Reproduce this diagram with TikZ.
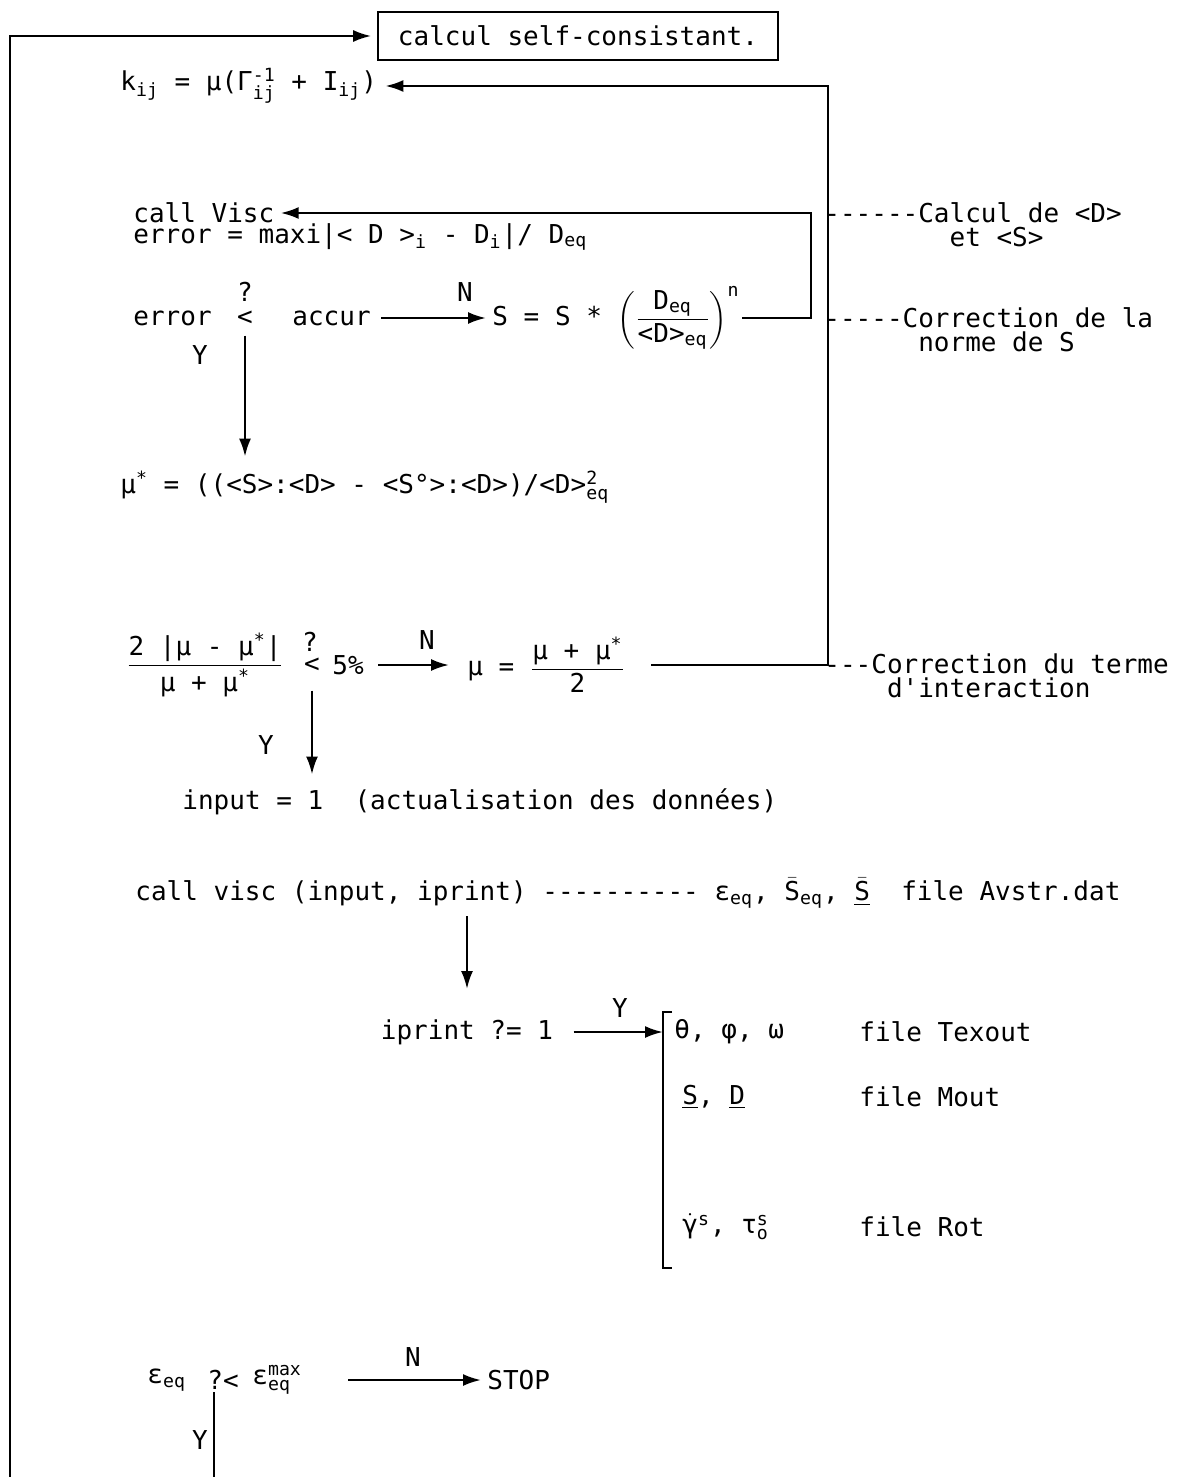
\documentclass[tikz,border=0pt]{standalone}
\usepackage{amsmath}
\usepackage{fontspec}
\setmonofont{DejaVu Sans Mono}
\usetikzlibrary{arrows.meta,positioning}
\newcommand{\subx}[1]{$_{\text{#1}}$}
\newcommand{\supsubx}[2]{$^{\text{#1}}_{\text{#2}}$}
\newcommand{\barS}{$\bar{\text{S}}$}

\begin{document}
\begin{tikzpicture}[
			x=0.5pt, y=-0.5pt,
			txt/.style={font=\ttfamily\fontsize{13}{12}\selectfont, inner sep=1pt},
			box/.style={rectangle, draw, line width=0.8pt, minimum width=200pt,
				minimum height=24pt, font=\ttfamily\fontsize{13}{12}\selectfont},
			line/.style={line width=1.2pt},
			arrow/.style={-{Latex[length=9pt,width=6pt]}, line width=1.2pt}
			]
			\fill[white] (0,0) rectangle (1180,1477);
			\useasboundingbox (0,0) rectangle (1180,1477);
			% iteration loop
			\node[box] (calc) at (578,36) {calcul self-consistant.};
			\node[txt, anchor=west] (kij) at (118,86) {k\subx{ij} = μ(Γ\supsubx{-1}{ij} + I\subx{ij})};
			\node[txt, anchor=west] (callv) at (131,213) {call Visc};
			\node[txt, anchor=west] (err) at (131,237) {error = maxi|< D >\subx{i} - D\subx{i}|/ D\subx{eq}};
			\node[txt, anchor=west] (errv) at (131,318) {error};
			\node[txt] (lt1) at (245,318) {<};
			\node[txt] (q1) at (245,292) {?};
			\node[txt, anchor=west] (accur) at (290,318) {accur};
			\node[txt] (n1) at (465,292) {N};
			\node[txt, anchor=west] (supd) at (490,318) {S = S * $\left(\dfrac{\text{D\subx{eq}}}{\text{<D>\subx{eq}}}\right)^{\text{n}}$};
			\node[txt] (y1) at (200,355) {Y};
			\node[txt, anchor=west] (must) at (118,487) {μ\textsuperscript{*} = ((<S>:<D> - <S°>:<D>)/<D>\supsubx{2}{eq}};
			\node[txt] (crit) at (205,665) {$\dfrac{\text{2 |μ - μ\textsuperscript{*}|}}{\text{μ + μ\textsuperscript{*}}}$};
			\node[txt] (q2) at (310,642) {?};
			\node[txt] (lt2) at (312,665) {<};
			\node[txt, anchor=west] (pct) at (330,665) {5\%};
			\node[txt] (n2) at (427,640) {N};
			\node[txt, anchor=west] (mupd) at (465,665) {μ = $\dfrac{\text{μ + μ\textsuperscript{*}}}{\text{2}}$};
			\node[txt] (y2) at (266,745) {Y};
			\node[txt, anchor=west] (inp) at (180,802) {input = 1\ \ (actualisation des données)};
			% output
			\node[txt, anchor=west] (callv2) at (133,893) {call visc (input, iprint) ---------- ε\subx{eq}, \barS\subx{eq}, $\underline{\bar{\text{S}}}$\ \ file Avstr.dat};
			\node[txt] (iprt) at (467,1032) {iprint ?= 1};
			\node[txt] (y3) at (620,1008) {Y};
			\coordinate (brk) at (663,1032);
			\coordinate (brtop) at (663,1012);
			\coordinate (brbot) at (663,1268);
			\node[txt, anchor=west] (thet) at (672,1032) {θ, φ, ω};
			\node[txt, anchor=west] (ftex) at (857,1032) {file Texout};
			\node[txt, anchor=west] (sd) at (680,1097) {\underline{S}, \underline{D}};
			\node[txt, anchor=west] (fmout) at (857,1097) {file Mout};
			\node[txt, anchor=west] (gt) at (680,1227) {$\dot{\text{γ}}$\textsuperscript{s}, τ\supsubx{s}{o}};
			\node[txt, anchor=west] (frot) at (857,1227) {file Rot};
			\node[txt, anchor=west] (eps) at (145,1380) {ε\subx{eq}};
			\node[txt, anchor=west] (qlt) at (205,1380) {?<};
			\node[txt, anchor=west] (emax) at (250,1380) {ε\supsubx{max}{eq}};
			\node[txt] (n3) at (413,1357) {N};
			\node[txt, anchor=west] (stop) at (485,1380) {STOP};
			\node[txt] (y4) at (200,1440) {Y};
			% side notes
			\node[txt, anchor=west, align=left] (lcalc) at (822,225) {------Calcul de <D>\\\hphantom{--------}et <S>};
			\node[txt, anchor=west, align=left] (lnorm) at (822,330) {-----Correction de la\\\hphantom{------}norme de S};
			\node[txt, anchor=west, align=left] (linter) at (822,676) {---Correction du terme\\\hphantom{----}d'interaction};
			\coordinate (sjoin) at (811,318);
			\coordinate (rjoin) at (828,665);
			\coordinate (loopbot) at (10,1477);
			\coordinate (ybot) at (214,1477);
			% connectors
			\draw[arrow, shorten >=3pt] (loopbot) |- (calc.west);
			\draw[arrow, shorten <=12pt, shorten >=3pt] (mupd.east) -- (rjoin) |- (kij.east);
			\draw[arrow, shorten >=2pt] (supd.east) -- (sjoin) |- (callv.east);
			\draw[arrow, shorten <=4pt, shorten >=2pt] (accur.east) -- (supd.west);
			\draw[arrow, shorten <=4pt, shorten >=6pt] (lt1.south) -- (lt1 |- must.north);
			\draw[arrow, shorten <=6pt, shorten >=8pt] (pct.east) -- (mupd.west);
			\draw[arrow, shorten <=8pt, shorten >=6pt] (lt2.south) -- (lt2 |- inp.north);
			\draw[arrow, shorten <=3pt, shorten >=14pt] (iprt |- callv2.south) -- (iprt.north);
			\draw[arrow, shorten <=9pt] (iprt.east) -- (brk);
			\draw[line] (brtop) ++(9,0) -- (brtop) -- (brbot) -- ++(9,0);
			\draw[arrow, shorten <=22pt, shorten >=2pt] (emax.east) -- (stop.west);
			\draw[line] (ybot |- qlt.south) -- (ybot);
		\end{tikzpicture}
\end{document}
